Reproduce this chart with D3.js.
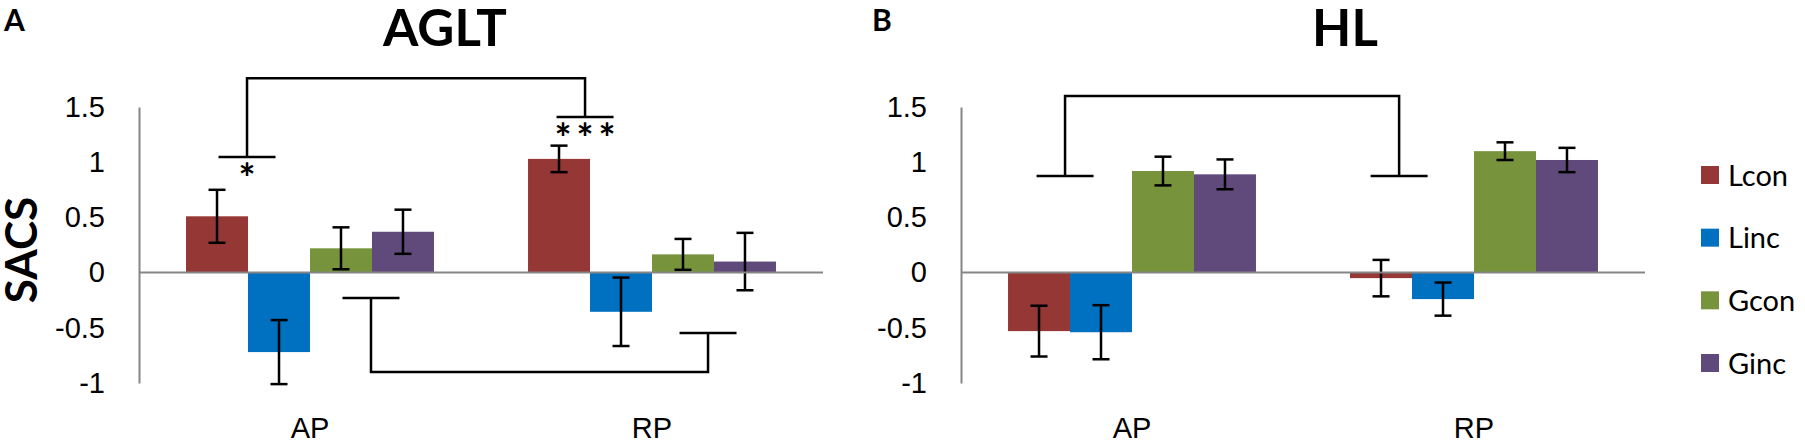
<!DOCTYPE html>
<html lang="en">
<head>
<meta charset="utf-8">
<title>AGLT / HL SACS</title>
<script src="https://cdn.jsdelivr.net/npm/d3@7/dist/d3.min.js"></script>
<style>
  body { margin: 0; background: #fff; }
  svg { display: block; font-family: Lato, "Open Sans", sans-serif; }
  .tick text { font-size: 29px; fill: #000; }
</style>
</head>
<body>
<script>
// categories, series, ticks
const categories = ["AP", "RP"];
const series = ["Lcon", "Linc", "Gcon", "Ginc"];
const colors = ["#953735", "#0070C0", "#77933C", "#604A7B"];
const yTicks = [-1, -0.5, 0, 0.5, 1, 1.5];

// values (rows = AP, RP)
const agltMeans  = [[0.51, -0.72, 0.22, 0.37], [1.03, -0.355, 0.165, 0.10]];
const agltErrors = [[0.24, 0.29, 0.19, 0.20], [0.12, 0.31, 0.14, 0.26]];
const hlMeans    = [[-0.53, -0.54, 0.92, 0.89], [-0.05, -0.24, 1.10, 1.02]];
const hlErrors   = [[0.23, 0.245, 0.13, 0.135], [0.165, 0.15, 0.08, 0.11]];

// significance brackets: [category, fraction along group], bar heights in SACS units
const agltBrackets = [
  { a: ["AP", 0.246], b: ["RP", 0.23], top: 1.76, capA: 1.047, capB: 1.41, labels: ["*", "***"] },
  { a: ["AP", 0.746], b: ["RP", 0.726], top: -0.90, capA: -0.23, capB: -0.546, labels: ["", ""] }
];
const hlBrackets = [
  { a: ["AP", 0.23], b: ["RP", 0.198], top: 1.60, capA: 0.875, capB: 0.875, labels: ["", ""] }
];

const W = 1805, H = 446;
const svg = d3.select("body").append("svg")
    .attr("width", W)
    .attr("height", H);

const plotW = 684;
const y = d3.scaleLinear().domain([-1, 1.5]).range([383, 107]);

function drawPanel(left, letter, letterX, title, titleX, means, errors, brackets) {
  const g = svg.append("g").attr("transform", `translate(${left},0)`);

  const x0 = d3.scaleBand().domain(categories).range([0, plotW])
      .paddingInner(0.275).paddingOuter(0.1375);
  const x1 = d3.scaleBand().domain(series).range([0, x0.bandwidth()]);

  // panel letter and title
  svg.append("text").attr("x", letterX).attr("y", 31)
      .attr("font-size", 30).attr("font-weight", 700).text(letter);
  svg.append("text").attr("x", titleX).attr("y", 46)
      .attr("text-anchor", "middle")
      .attr("font-size", 51).attr("font-weight", 700).text(title);

  // y axis
  const yAxis = d3.axisLeft(y).tickValues(yTicks).tickSize(0).tickSizeOuter(0)
      .tickPadding(34).tickFormat(d => String(d));
  const ya = g.append("g").call(yAxis);
  ya.select(".domain").attr("stroke", "#868686").attr("stroke-width", 2);

  // bars
  const rows = categories.map((c, i) => series.map((s, j) => ({
    cat: c, ser: s, v: means[i][j], e: errors[i][j], col: colors[j]
  })));
  const grp = g.selectAll(".grp").data(rows).join("g")
      .attr("transform", (d, i) => `translate(${x0(categories[i])},0)`);

  grp.selectAll("rect").data(d => d).join("rect")
      .attr("x", d => x1(d.ser))
      .attr("width", x1.bandwidth())
      .attr("y", d => y(Math.max(0, d.v)))
      .attr("height", d => Math.abs(y(d.v) - y(0)))
      .attr("fill", d => d.col);

  // zero line
  g.append("line")
      .attr("x1", 0).attr("x2", plotW)
      .attr("y1", y(0)).attr("y2", y(0))
      .attr("stroke", "#868686").attr("stroke-width", 2);

  // error bars
  const eb = grp.selectAll(".eb").data(d => d).join("g").attr("class", "eb")
      .attr("stroke", "#000").attr("stroke-width", 2.5);
  const cx = d => x1(d.ser) + x1.bandwidth() / 2;
  eb.append("line")
      .attr("x1", cx).attr("x2", cx)
      .attr("y1", d => y(d.v - d.e)).attr("y2", d => y(d.v + d.e));
  [1, -1].forEach(sgn => {
    eb.append("line")
        .attr("x1", d => cx(d) - 8.5).attr("x2", d => cx(d) + 8.5)
        .attr("y1", d => y(d.v + sgn * d.e)).attr("y2", d => y(d.v + sgn * d.e));
  });

  // category labels
  const xa = g.append("g").attr("transform", "translate(0,417)")
      .call(d3.axisBottom(x0).tickSize(0).tickPadding(0));
  xa.select(".domain").remove();

  // brackets
  const bx = p => x0(p[0]) + p[1] * x0.bandwidth();
  brackets.forEach(b => {
    const xa_ = bx(b.a), xb_ = bx(b.b);
    g.append("path")
        .attr("d", d3.line()([[xa_, y(b.capA)], [xa_, y(b.top)], [xb_, y(b.top)], [xb_, y(b.capB)]]))
        .attr("fill", "none").attr("stroke", "#000").attr("stroke-width", 2.5);
    [[xa_, b.capA, b.labels[0]], [xb_, b.capB, b.labels[1]]].forEach(([xx, yy, lab]) => {
      g.append("line")
          .attr("x1", xx - 28.5).attr("x2", xx + 28.5)
          .attr("y1", y(yy)).attr("y2", y(yy))
          .attr("stroke", "#000").attr("stroke-width", 2.5);
      // one asterisk per star, 22px apart
      const n = lab.length;
      for (let k = 0; k < n; k++) {
        g.append("text")
            .attr("x", xx + (k - (n - 1) / 2) * 22)
            .attr("y", y(yy) + 36)
            .attr("text-anchor", "middle")
            .attr("font-size", 40).attr("font-weight", 700)
            .text(lab[k]);
      }
    });
  });
}

drawPanel(139, "A", 4, "AGLT", 445, agltMeans, agltErrors, agltBrackets);
drawPanel(961, "B", 872, "HL", 1345, hlMeans, hlErrors, hlBrackets);

// y label
svg.append("text")
    .attr("transform", "translate(37,250) rotate(-90)")
    .attr("text-anchor", "middle")
    .attr("font-size", 44).attr("font-weight", 700)
    .text("SACS");

// legend
const legend = svg.append("g").attr("transform", "translate(1701,0)");
const ly = d3.scalePoint().domain(series).range([175, 363]);
legend.selectAll("rect").data(series).join("rect")
    .attr("x", 0).attr("y", d => ly(d) - 9)
    .attr("width", 18).attr("height", 18)
    .attr("fill", (d, i) => colors[i]);
legend.selectAll("text").data(series).join("text")
    .attr("x", 27).attr("y", d => ly(d) + 10.5)
    .attr("font-size", 29)
    .text(d => d);
</script>
</body>
</html>
